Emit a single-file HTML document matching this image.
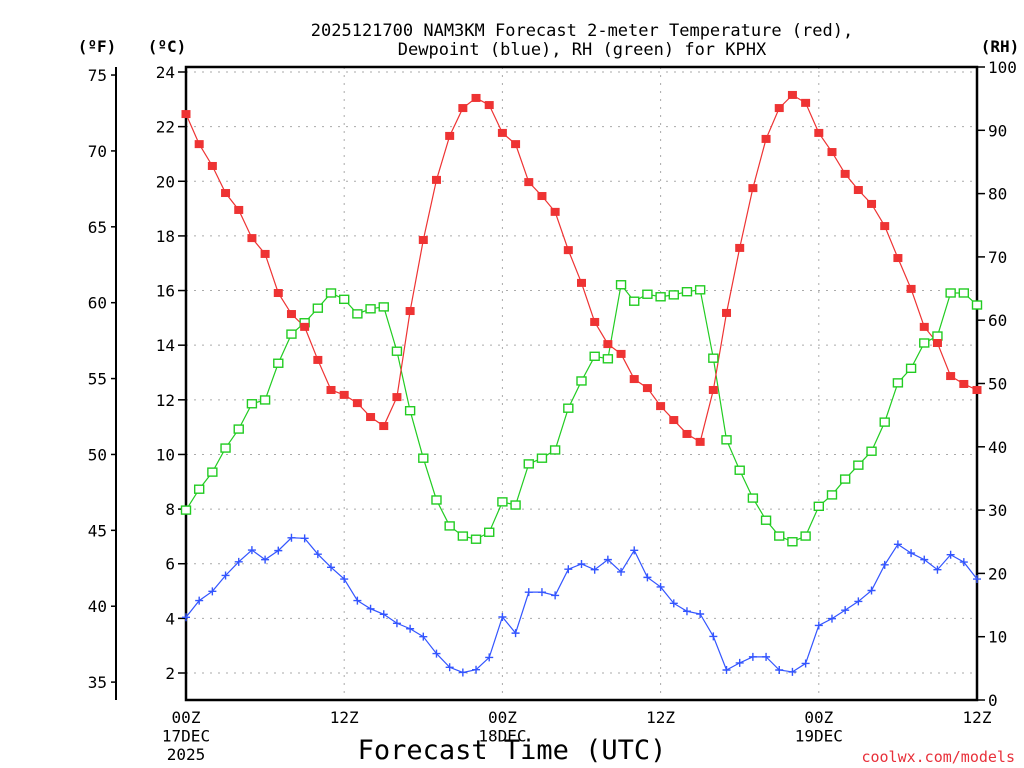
<!DOCTYPE html>
<html><head><meta charset="utf-8"><style>
html,body{margin:0;padding:0;background:#fff;}
svg{display:block;}
text{font-family:"DejaVu Sans Mono","Liberation Mono",monospace;}
</style></head><body>
<svg id="chart" width="1024" height="768" viewBox="0 0 1024 768" xmlns="http://www.w3.org/2000/svg">
<g id="grid"></g>
<g id="axes"></g>
<g id="series"></g>
<text x="582" y="36" font-size="17" text-anchor="middle">2025121700 NAM3KM Forecast 2-meter Temperature (red),</text>
<text x="582" y="55" font-size="17" text-anchor="middle">Dewpoint (blue), RH (green) for KPHX</text>
<text x="97" y="52" font-size="16" font-weight="bold" text-anchor="middle">(ºF)</text>
<text x="167" y="52" font-size="16" font-weight="bold" text-anchor="middle">(ºC)</text>
<text x="1000" y="52" font-size="16" font-weight="bold" text-anchor="middle">(RH)</text>
<text x="512" y="759" font-size="27" text-anchor="middle">Forecast Time (UTC)</text>
<text x="1015" y="762" font-size="15" fill="#e8303a" text-anchor="end">coolwx.com/models</text>
</svg>
<script>
const hours = Array.from({length:61},(_,i)=>i);
const tempC = [22.46,21.36,20.56,19.57,18.95,17.92,17.34,15.91,15.14,14.67,13.46,12.36,12.18,11.88,11.37,11.04,12.10,15.25,17.85,20.05,21.66,22.68,23.05,22.79,21.77,21.36,19.97,19.46,18.88,17.48,16.28,14.85,14.04,13.68,12.76,12.43,11.77,11.26,10.75,10.46,12.36,15.18,17.56,19.75,21.55,22.68,23.16,22.87,21.77,21.07,20.27,19.68,19.17,18.36,17.19,16.06,14.67,14.08,12.87,12.58,12.36];
const dewC = [4.04,4.65,4.99,5.57,6.07,6.50,6.15,6.48,6.95,6.93,6.35,5.87,5.44,4.65,4.35,4.15,3.82,3.62,3.33,2.71,2.21,2.02,2.12,2.57,4.05,3.46,4.96,4.96,4.84,5.80,5.99,5.78,6.15,5.70,6.49,5.50,5.15,4.55,4.26,4.16,3.34,2.11,2.37,2.59,2.59,2.11,2.04,2.35,3.74,3.99,4.30,4.62,5.02,5.96,6.71,6.39,6.15,5.78,6.33,6.06,5.44];
const rh = [30.0,33.3,36.0,39.8,42.8,46.8,47.4,53.2,57.8,59.6,61.9,64.3,63.3,61.0,61.8,62.1,55.1,45.7,38.2,31.6,27.5,25.9,25.4,26.5,31.3,30.8,37.3,38.2,39.5,46.1,50.4,54.3,53.9,65.6,63.0,64.1,63.7,64.0,64.5,64.8,54.0,41.1,36.3,31.9,28.4,25.9,25.0,25.9,30.6,32.4,34.9,37.1,39.3,43.9,50.1,52.4,56.4,57.5,64.3,64.3,62.4];
const cTicks = [2,4,6,8,10,12,14,16,18,20,22,24];
const fTicks = [35,40,45,50,55,60,65,70,75];
const rhTicks = [0,10,20,30,40,50,60,70,80,90,100];
const xTickHours = [0,12,24,36,48,60];
const xTickLabels = [["00Z","17DEC","2025"],["12Z"],["00Z","18DEC"],["12Z"],["00Z","19DEC"],["12Z"]];

const NS="http://www.w3.org/2000/svg";
const L=186,R=977,T=67,B=700;
const xS=h=>L+(R-L)*h/60;
const yC=c=>72+(24-c)*(601/22);
const yF=f=>yC((f-32)*5/9);
const yR=v=>B-(B-T)*v/100;
function mk(tag,attrs,parent){const e=document.createElementNS(NS,tag);for(const k in attrs)e.setAttribute(k,attrs[k]);parent.appendChild(e);return e;}
const grid=document.getElementById('grid'),axes=document.getElementById('axes'),series=document.getElementById('series');

cTicks.forEach(c=>{
  const g=mk('line',{x1:L,x2:R,y1:yC(c),y2:yC(c),stroke:'#aaa','stroke-dasharray':'2,6'},grid);
  
  
  const t=mk('line',{x1:L-8,x2:L,y1:yC(c),y2:yC(c),stroke:'#000','stroke-width':1.5},axes);
  
  
  const tx=mk('text',{x:175,y:yC(c)+6,'font-size':16,'text-anchor':'end'},axes);tx.textContent=c;
  
  
});
xTickHours.forEach((h,i)=>{
  if(h>0&&h<60){const g=mk('line',{x1:xS(h),x2:xS(h),y1:T,y2:B,stroke:'#aaa','stroke-dasharray':'2,6'},grid);
  
  }
  xTickLabels[i].forEach((s,j)=>{
    const tx=mk('text',{x:xS(h),y:723+j*18.5,'font-size':16,'text-anchor':'middle'},axes);tx.textContent=s;
    
    
  });
});
fTicks.forEach(f=>{
  const t=mk('line',{x1:111,x2:116,y1:yF(f),y2:yF(f),stroke:'#000','stroke-width':1.5},axes);
  
  
  const tx=mk('text',{x:107,y:yF(f)+6,'font-size':16,'text-anchor':'end'},axes);tx.textContent=f;
  
  
});
rhTicks.forEach(v=>{
  const t=mk('line',{x1:R,x2:R+8,y1:yR(v),y2:yR(v),stroke:'#000','stroke-width':1.5},axes);
  
  
  const tx=mk('text',{x:R+11,y:yR(v)+6,'font-size':16},axes);tx.textContent=v;
  
  
});
const fl=mk('line',{x1:116,x2:116,y1:67,y2:700,stroke:'#000','stroke-width':2},axes);


const fr=mk('rect',{x:L,y:T,width:R-L,height:B-T,fill:'none',stroke:'#000','stroke-width':2.5},axes);



function line(vals,yf,color,name){
  const p=mk('polyline',{points:vals.map((v,i)=>xS(hours[i])+','+yf(v)).join(' '),fill:'none',stroke:color,'stroke-width':1.2},series);
  
  
}
line(rh,yR,'#22cc22','rh-line');
line(tempC,yC,'#ee3333','temperature-line');
line(dewC,yC,'#3355ff','dewpoint-line');
rh.forEach((v,i)=>{
  const m=mk('rect',{x:xS(hours[i])-4.5,y:yR(v)-4,width:9,height:8,fill:'#fff',stroke:'#22cc22','stroke-width':1.4},series);
  
  
});
tempC.forEach((v,i)=>{
  const m=mk('rect',{x:xS(hours[i])-4.5,y:yC(v)-4,width:9,height:8,fill:'#ee3333'},series);
  
  
});
dewC.forEach((v,i)=>{
  const x=xS(hours[i]),y=yC(v);
  const m=mk('path',{d:`M${x-4},${y}H${x+4}M${x},${y-4}V${y+4}`,stroke:'#3355ff','stroke-width':1.4},series);
  
  
});
</script>
</body></html>
